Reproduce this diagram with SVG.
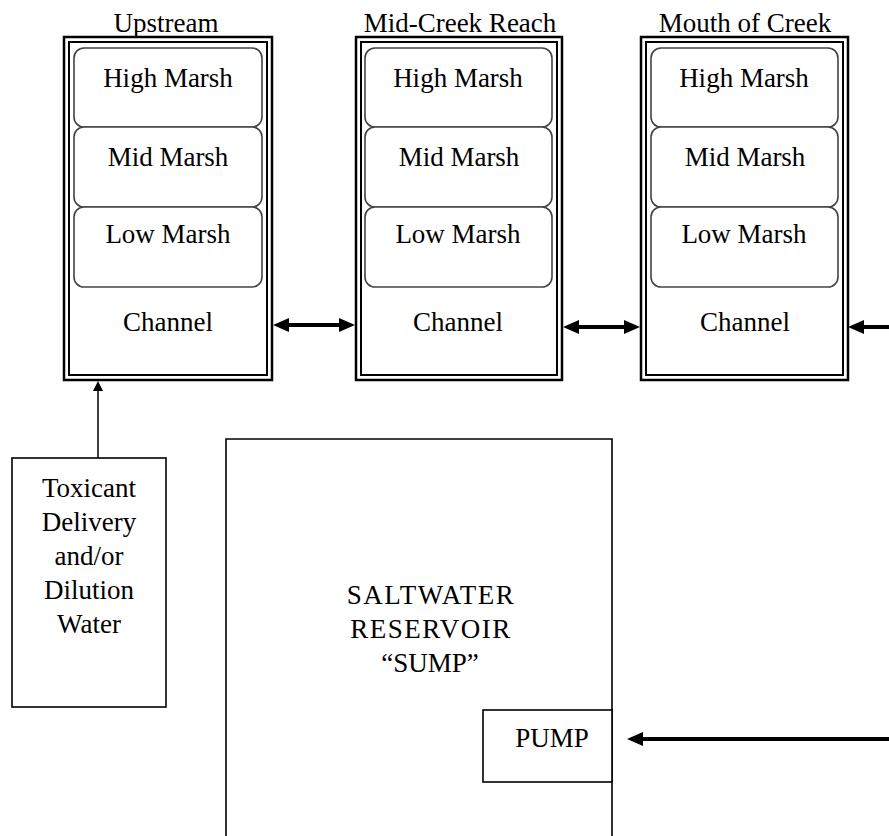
<svg xmlns="http://www.w3.org/2000/svg" width="889" height="836" viewBox="0 0 889 836">
<defs>
<style>
text{font-size:27px;fill:#000;text-anchor:middle}
.caps{letter-spacing:1.5px}
.outer{fill:#fff;stroke:#000;stroke-width:2.5}
.inner{fill:none;stroke:#000;stroke-width:2}
.zone{fill:#fff;stroke:#444;stroke-width:1.6}
.box{fill:#fff;stroke:#000;stroke-width:1.6}
.thick{stroke:#000;stroke-width:4;fill:none}
.thin{stroke:#000;stroke-width:1.5;fill:none}
</style>
<marker id="ah" markerUnits="userSpaceOnUse" markerWidth="16" markerHeight="14" refX="4" refY="7" orient="auto-start-reverse"><path d="M0,0 L16,7 L0,14 Z" fill="#000"/></marker>
<marker id="ahs" markerUnits="userSpaceOnUse" markerWidth="10" markerHeight="10" refX="2" refY="5" orient="auto"><path d="M0,0 L10,5 L0,10 Z" fill="#000"/></marker>
</defs>
<rect width="889" height="836" fill="#fff"/>

<g font-family="'Liberation Serif', 'DejaVu Serif', serif">
<g id="upstream">
<text x="166" y="32">Upstream</text>
<rect class="outer" x="64" y="37" width="208" height="343"/>
<rect class="inner" x="69" y="42" width="198" height="333"/>
<rect class="zone" x="74" y="48" width="188" height="79" rx="10"/>
<rect class="zone" x="74" y="127" width="188" height="80" rx="10"/>
<rect class="zone" x="74" y="207" width="188" height="80" rx="10"/>
<text x="168" y="87">High Marsh</text>
<text x="168" y="166">Mid Marsh</text>
<text x="168" y="243">Low Marsh</text>
<text x="168" y="331">Channel</text>
</g>

<g id="midcreek">
<text x="460" y="32">Mid-Creek Reach</text>
<rect class="outer" x="356" y="37" width="206" height="343"/>
<rect class="inner" x="361" y="42" width="196" height="333"/>
<rect class="zone" x="365" y="48" width="187" height="79" rx="10"/>
<rect class="zone" x="365" y="127" width="187" height="80" rx="10"/>
<rect class="zone" x="365" y="207" width="187" height="80" rx="10"/>
<text x="458" y="87">High Marsh</text>
<text x="459" y="166">Mid Marsh</text>
<text x="458" y="243">Low Marsh</text>
<text x="458" y="331">Channel</text>
</g>

<g id="mouth">
<text x="745" y="32">Mouth of Creek</text>
<rect class="outer" x="641" y="37" width="207" height="343"/>
<rect class="inner" x="646" y="42" width="197" height="333"/>
<rect class="zone" x="651" y="48" width="187" height="79" rx="10"/>
<rect class="zone" x="651" y="127" width="187" height="80" rx="10"/>
<rect class="zone" x="651" y="207" width="187" height="80" rx="10"/>
<text x="744" y="87">High Marsh</text>
<text x="745" y="166">Mid Marsh</text>
<text x="744" y="243">Low Marsh</text>
<text x="745" y="331">Channel</text>
</g>

<g id="toxicant">
<rect class="box" x="12" y="458" width="154" height="249"/>
<text x="89" y="497">Toxicant</text>
<text x="89" y="531">Delivery</text>
<text x="89" y="565">and/or</text>
<text x="89" y="599">Dilution</text>
<text x="89" y="633">Water</text>
</g>

<g id="reservoir">
<path class="box" d="M226,845 L226,439 L612,439 L612,845"/>
<text class="caps" x="431" y="604">SALTWATER</text>
<text class="caps" x="431" y="638">RESERVOIR</text>
<text x="430" y="672">“SUMP”</text>
</g>

<g id="pump">
<rect class="box" x="483" y="710" width="129" height="72"/>
<text x="552" y="747">PUMP</text>
</g>
</g>

<g id="connectors">
<line class="thick" x1="285" y1="325" x2="343" y2="325" marker-start="url(#ah)" marker-end="url(#ah)"/>
<line class="thick" x1="575" y1="327" x2="628" y2="327" marker-start="url(#ah)" marker-end="url(#ah)"/>
<line class="thick" x1="889" y1="327" x2="860" y2="327" marker-end="url(#ah)"/>
<line class="thick" x1="889" y1="739" x2="639" y2="739" marker-end="url(#ah)"/>
<line class="thin" x1="98" y1="458" x2="98" y2="389" marker-end="url(#ahs)"/>
</g>
</svg>
